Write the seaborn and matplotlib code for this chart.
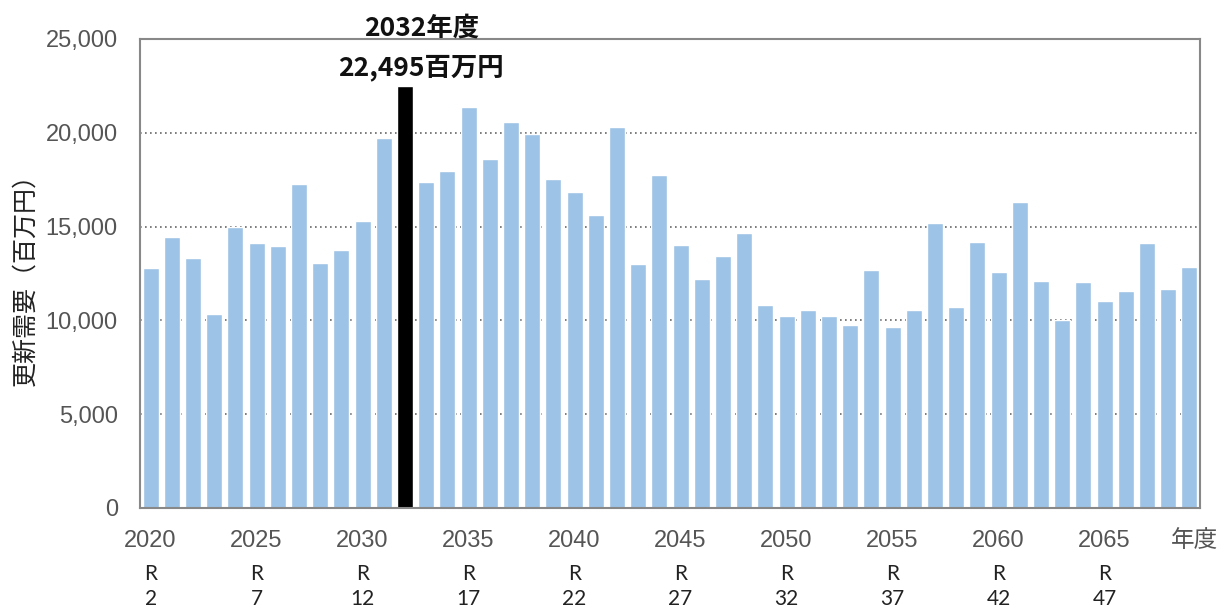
import pandas as pd
import matplotlib.pyplot as plt
import seaborn as sns
from matplotlib.transforms import blended_transform_factory

# 更新需要（百万円）by fiscal year
years = list(range(2020, 2070))
demand = [12800, 14450, 13300, 10350, 15000, 14100, 13970, 17250, 13080, 13750,
          15300, 19700, 22495, 17400, 17950, 21370, 18620, 20600, 19930, 17520,
          16840, 15620, 20330, 13000, 17730, 14020, 12190, 13410, 14640, 10820,
          10260, 10530, 10260, 9780, 12670, 9640, 10530, 15200, 10740, 14160,
          12600, 16300, 12110, 10010, 12040, 11030, 11570, 14100, 11690, 12850]
peak_year = 2032
tick_years = [2020, 2025, 2030, 2035, 2040, 2045, 2050, 2055, 2060, 2065]
reiwa = [2, 7, 12, 17, 22, 27, 32, 37, 42, 47]
y_ticks = [0, 5000, 10000, 15000, 20000, 25000]

sns.set_style("white")
plt.rcParams['font.family'] = ['Liberation Sans', 'Noto Sans CJK JP', 'DejaVu Sans']

df = pd.DataFrame({"year": [str(y) for y in years], "demand": demand})
colors = ["#000000" if y == peak_year else "#9dc3e6" for y in years]

fig = plt.figure(figsize=(12.29, 6.11), dpi=100)
ax = fig.add_axes([0.1139, 0.1686, 0.8625, 0.7676])

sns.barplot(data=df, x="year", y="demand", hue="year", palette=colors,
            legend=False, dodge=False, width=0.76, saturation=1, ax=ax)

ax.set_xlim(-0.5, len(years) - 0.5)
ax.set_ylim(0, 25000)
ax.set_yticks(y_ticks)
ax.set_yticklabels([f"{v:,}" for v in y_ticks])
pos = [years.index(y) for y in tick_years]
ax.set_xticks(pos)
ax.set_xticklabels([str(y) for y in tick_years])
ax.tick_params(axis="both", length=0, labelsize=17, labelcolor="#555555")
ax.tick_params(axis="y", pad=16)
ax.tick_params(axis="x", pad=16)

ax.yaxis.grid(True, linestyle=(0, (1, 2)), color="#666666", linewidth=1.2)
ax.set_axisbelow(True)
for s in ax.spines.values():
    s.set_color("#888888")
    s.set_linewidth(1.5)

ax.set_xlabel("")
ax.set_ylabel("更新需要（百万円）", fontsize=18, color="#222222",
              family=['Noto Sans CJK JP'], labelpad=5)

# Reiwa era rows under the year ticks
trans = blended_transform_factory(ax.transData, ax.transAxes)
for p, r in zip(pos, reiwa):
    ax.text(p, -0.14, "R", transform=trans, ha="center", va="center",
            fontsize=15, color="#222222", family=['Lato'])
    ax.text(p, -0.194, str(r), transform=trans, ha="center", va="center",
            fontsize=15, color="#222222", family=['Lato'])
ax.text(0.995, -0.07, "年度", transform=ax.transAxes, ha="center", va="center",
        fontsize=17, color="#555555", family=['Noto Sans CJK JP'])

pk = years.index(peak_year)
pv = demand[pk]
ax.text(pk + 0.8, 25580, f"{peak_year}年度", ha="center", va="center",
        fontsize=19, fontweight="bold", color="#111111",
        family=['Noto Sans CJK JP'], clip_on=False)
ax.text(pk + 0.75, 23450, f"{pv:,}百万円", ha="center", va="center",
        fontsize=19, fontweight="bold", color="#111111",
        family=['Noto Sans CJK JP'])

plt.savefig("out.png", dpi=100)
